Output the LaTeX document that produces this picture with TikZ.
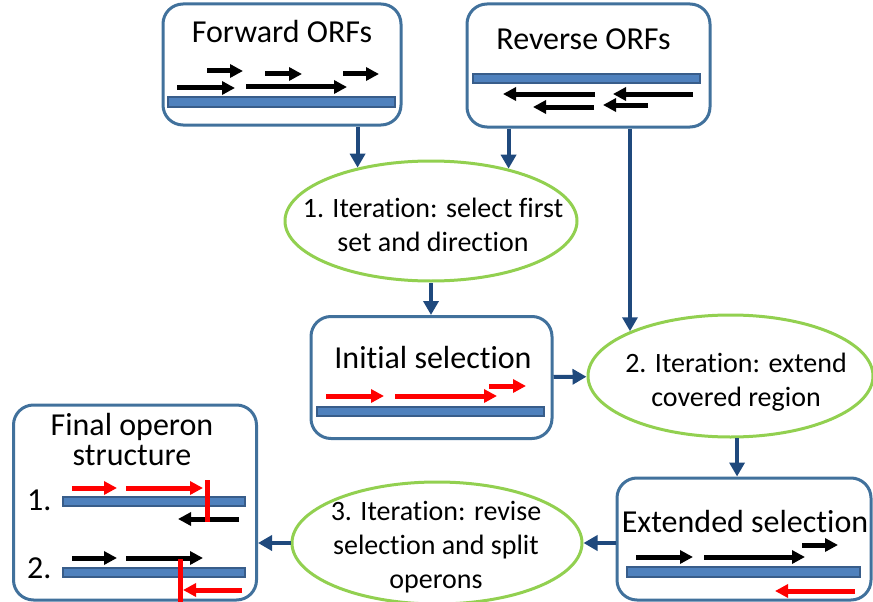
\documentclass[tikz,border=0pt]{standalone}
\usepackage{fontspec}
\setmainfont{Carlito}[Ligatures=NoCommon]
\usetikzlibrary{arrows.meta}
\usetikzlibrary{shapes.geometric}
\definecolor{boxblue}{RGB}{65,113,156}
\definecolor{flowblue}{RGB}{31,73,125}
\definecolor{barfill}{RGB}{79,129,189}
\definecolor{barline}{RGB}{56,93,138}
\definecolor{itergreen}{RGB}{146,208,80}

\begin{document}
\begin{tikzpicture}
[x=1pt,y=-1pt,%
  stage/.style={shape=rectangle,draw=boxblue,line width=3pt,rounded corners=20pt,inner sep=0pt},%
  iter/.style={shape=ellipse,draw=itergreen,line width=3pt,inner sep=0pt},%
  title/.style={inner sep=0pt,font=\fontsize{32}{30}\selectfont},%
  itertext/.style={inner sep=0pt,align=center,font=\fontsize{28}{34}\selectfont},%
  bar/.style={draw=barline,fill=barfill,line width=1.5pt},%
  orf/.style={line width=5pt,-{Triangle[length=13pt,width=13pt]}},%
  cut/.style={red,line width=5pt},%
  flow/.style={draw=flowblue,line width=4pt,-{Triangle[length=14pt,width=15pt]}}]
\useasboundingbox (0,0) rectangle (873,602);
%%
\node[stage,minimum width=238pt,minimum height=121pt] (fwd) at (282,64.5) {};
\node[title,anchor=base] (fwdtitle) at (282,43) {Forward ORFs};
\draw[bar] (168,97) rectangle (395,107);
\foreach \from/\to/\y in {177/235/88, 207/243/71, 246/347/87, 265/302/74, 343/379/74}
  \draw[orf] (\from,\y) -- (\to,\y);
%%
\node[stage,minimum width=243pt,minimum height=123pt] (rev) at (588.5,65.5) {};
\node[title,anchor=base] (revtitle) at (583.5,50) {Reverse ORFs};
\draw[bar] (473,74) rectangle (700,83);
\foreach \from/\to/\y in {595/503/94, 693/613/94, 594/533/107, 648/603/105}
  \draw[orf] (\from,\y) -- (\to,\y);
%%
\node[iter,minimum width=292pt,minimum height=120pt] (it1) at (431,221) {};
\node[itertext] (it1text) at (433,225) {1. Iteration: select first\\set and direction};
%%
\node[stage,minimum width=241pt,minimum height=122pt] (init) at (431.5,377.5) {};
\node[title,anchor=base] (inittitle) at (433,368) {Initial selection};
\draw[bar] (317,407) rectangle (544,416);
\foreach \from/\to/\y in {326/384/396, 395/497/396, 489/526/386}
  \draw[orf,red] (\from,\y) -- (\to,\y);
%%
\node[iter,minimum width=285pt,minimum height=122pt] (it2) at (730.5,376) {};
\node[itertext] (it2text) at (736,382) {2. Iteration: extend\\covered region};
%%
\node[stage,minimum width=254pt,minimum height=122pt] (ext) at (744,539) {};
\node[title,anchor=base] (exttitle) at (745,532) {Extended selection};
\draw[bar] (627,567) rectangle (860,577);
\foreach \from/\to/\y in {636/693/557, 704/805/557, 802/838/545}
  \draw[orf] (\from,\y) -- (\to,\y);
\draw[orf,red] (855,591) -- (775,591);
%%
\node[iter,minimum width=290pt,minimum height=122pt] (it3) at (437,543) {};
\node[itertext] (it3text) at (436,547) {3. Iteration: revise\\selection and split\\operons};
%%
\node[stage,minimum width=243pt,minimum height=195pt] (fin) at (135,502.5) {};
\node[title,align=center] (fintitle) at (132,440) {Final operon\\structure};
\node[title,anchor=base west] (one) at (27,510) {1.};
\node[title,anchor=base west] (two) at (27,578) {2.};
\draw[bar] (63,497) rectangle (245,506);
\draw[bar] (63,568) rectangle (245,577);
\foreach \from/\to/\y in {72/117/488, 126/203/488, 242/183/590}
  \draw[orf,red] (\from,\y) -- (\to,\y);
\foreach \from/\to/\y in {239/178/519, 72/117/558, 126/203/558}
  \draw[orf] (\from,\y) -- (\to,\y);
\draw[cut] (207,480) -- (207,522);
\draw[cut] (180,559) -- (180,602);
%%
\path
\foreach \startNode/\endNode in {fwd.south -| it1.144/it1.144, rev.south -| it1.34/it1.34,
  rev.south -| it2.156/it2.156, it1.south/it1.south |- init.north, init/it2,
  it2.-84/it2.-84 |- ext.north, ext.west |- it3/it3, it3.west/it3.west -| fin.east}
{
  (\startNode) edge[flow] (\endNode)
};
\end{tikzpicture}
\end{document}
